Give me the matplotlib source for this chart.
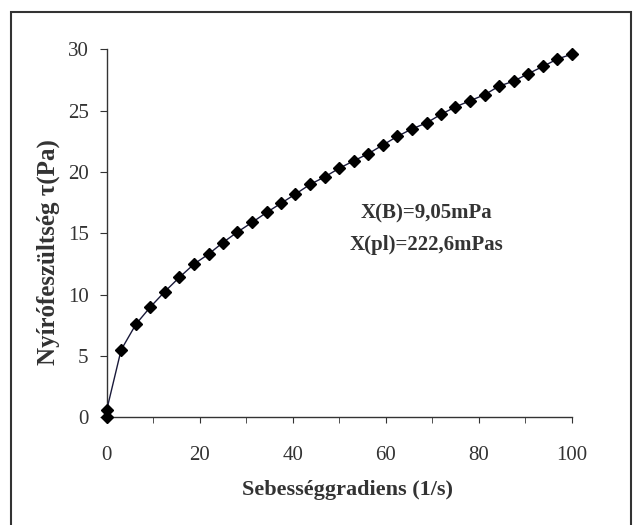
import numpy as np
import matplotlib.pyplot as plt
from matplotlib.patches import Rectangle

# shear rate (1/s) and shear stress (Pa)
rate = [0, 0, 3.1, 6.3, 9.4, 12.5, 15.6, 18.8, 21.9, 25.0, 28.1, 31.3,
        34.4, 37.5, 40.6, 43.8, 46.9, 50.0, 53.1, 56.3, 59.4, 62.5,
        65.6, 68.8, 71.9, 75.0, 78.1, 81.3, 84.4, 87.5, 90.6, 93.8,
        96.9, 100.0]
stress = [0.0, 0.6, 5.5, 7.6, 9.0, 10.25, 11.4, 12.5, 13.3, 14.25, 15.1,
          15.9, 16.7, 17.45, 18.2, 19.0, 19.6, 20.3, 20.9, 21.5, 22.2,
          22.9, 23.5, 24.0, 24.7, 25.3, 25.8, 26.3, 27.0, 27.4, 28.0,
          28.6, 29.2, 29.6]

x_ticks = [0, 20, 40, 60, 80, 100]
y_ticks = [0, 5, 10, 15, 20, 25, 30]
notes = ["X(B)=9,05mPa", "X(pl)=222,6mPas"]

plt.rcParams['font.family'] = ['Liberation Serif', 'DejaVu Serif']

fig = plt.figure(figsize=(6.33, 5.25), dpi=100)
# outer frame of the chart area (bottom edge is cut off in the original)
fig.patches.append(Rectangle((11 / 633, -0.05), 620 / 633, 1.05 - 12 / 525,
                             transform=fig.transFigure, fill=False,
                             edgecolor='#333333', linewidth=1.5))

ax = fig.add_axes([0.1686, 0.2051, 0.7345, 0.7010])
ax.plot(rate, stress, color='#1a1a3a', linewidth=1.0, marker='D',
        markersize=6, markerfacecolor='black', markeredgecolor='black',
        clip_on=False, zorder=3)

ax.set_xlim(0, 100)
ax.set_ylim(0, 30)
ax.set_xticks(x_ticks)
ax.set_xticks(np.arange(10, 100, 20), minor=True)
ax.set_yticks(y_ticks)
ax.tick_params(axis='both', which='both', direction='out', colors='#333333',
               labelcolor='#333333', labelsize=15)
ax.tick_params(axis='x', which='both', length=4, pad=17)
ax.tick_params(axis='y', length=5, pad=8)
for side in ['top', 'right']:
    ax.spines[side].set_visible(False)
for side in ['left', 'bottom']:
    ax.spines[side].set_color('#333333')
    ax.spines[side].set_linewidth(1.0)

ax.set_xlabel('Sebességgradiens (1/s)', fontsize=16, fontweight='bold',
              color='#333333', labelpad=14)
ax.xaxis.set_label_coords(0.518, -0.17)
ax.set_ylabel('Nyírófeszültség τ(Pa)', fontsize=18, fontweight='bold',
              color='#333333')
ax.yaxis.set_label_coords(-0.10, 0.45)

ax.text(68.8, 16.65, notes[0], ha='center', va='center', fontsize=15,
        fontweight='bold', color='#333333')
ax.text(68.8, 14.05, notes[1], ha='center', va='center', fontsize=15,
        fontweight='bold', color='#333333')

fig.savefig('out.png', dpi=100)
